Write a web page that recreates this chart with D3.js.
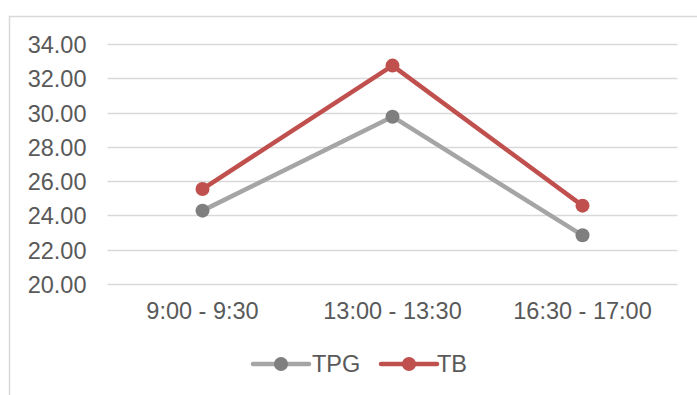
<!DOCTYPE html>
<html>
<head>
<meta charset="utf-8">
<script src="https://cdn.jsdelivr.net/npm/d3@7"></script>
<style>
  html, body { margin: 0; padding: 0; background: #fff; }
  svg { display: block; }
  text { font-family: "Liberation Sans", Arial, sans-serif; fill: #595959; }
</style>
</head>
<body>
<svg id="chart" width="697" height="395"></svg>
<script>
// Time slots on the x axis
const categories = ["9:00 - 9:30", "13:00 - 13:30", "16:30 - 17:00"];
// Series values
const tpgValues = [24.28, 29.76, 22.84];
const tbValues = [25.54, 32.74, 24.57];
// Y axis ticks
const yTicks = [20, 22, 24, 26, 28, 30, 32, 34];

const series = [
  { name: "TPG", values: tpgValues, line: "#A5A5A5", marker: "#7F7F7F" },
  { name: "TB", values: tbValues, line: "#C0504D", marker: "#C0504D" }
];

const W = 697, H = 395;
const plot = { left: 107.5, right: 677.5, top: 44, bottom: 284 };
const svg = d3.select("#chart");

// Outer chart frame (top and left edges visible)
svg.append("path")
  .attr("d", `M9.5,${H} L9.5,16.5 L${W},16.5`)
  .attr("fill", "none")
  .attr("stroke", "#D9D9D9")
  .attr("stroke-width", 1.5);

const x = d3.scaleBand().domain(categories).range([plot.left, plot.right]);
const y = d3.scaleLinear().domain([20, 34]).range([plot.bottom, plot.top]);

// Horizontal gridlines
svg.append("g")
  .selectAll("line")
  .data(yTicks)
  .join("line")
  .attr("x1", plot.left)
  .attr("x2", plot.right)
  .attr("y1", d => Math.round(y(d)) + 0.5)
  .attr("y2", d => Math.round(y(d)) + 0.5)
  .attr("stroke", "#D9D9D9")
  .attr("stroke-width", 1.3);

// Y axis labels
const yAxis = svg.append("g")
  .attr("transform", `translate(${plot.left},0)`)
  .call(d3.axisLeft(y).tickValues(yTicks).tickFormat(d3.format(".2f")).tickSize(0).tickPadding(21));
yAxis.select(".domain").remove();
yAxis.selectAll("text")
  .attr("fill", "#595959")
  .style("font-size", "23.5px")
  .style("font-family", "'Liberation Sans', Arial, sans-serif")
  .attr("dy", "0.36em");

// X axis labels
const xAxis = svg.append("g")
  .attr("transform", `translate(0,${plot.bottom})`)
  .call(d3.axisBottom(x).tickSize(0).tickPadding(18));
xAxis.select(".domain").remove();
xAxis.selectAll("text")
  .attr("fill", "#595959")
  .style("font-size", "23.5px")
  .style("font-family", "'Liberation Sans', Arial, sans-serif");

const cx = c => x(c) + x.bandwidth() / 2;
const line = d3.line()
  .x((d, i) => cx(categories[i]))
  .y(d => y(d));

// Series lines and markers
series.forEach(s => {
  svg.append("path")
    .datum(s.values)
    .attr("d", line)
    .attr("fill", "none")
    .attr("stroke", s.line)
    .attr("stroke-width", 4.5)
    .attr("stroke-linejoin", "round")
    .attr("stroke-linecap", "round");
  svg.append("g")
    .selectAll("circle")
    .data(s.values)
    .join("circle")
    .attr("cx", (d, i) => cx(categories[i]))
    .attr("cy", d => y(d))
    .attr("r", 7)
    .attr("fill", s.marker);
});

// Legend
const legendItems = [
  { s: series[0], x0: 253, x1: 309, tx: 312 },
  { s: series[1], x0: 381, x1: 437, tx: 437 }
];
const ly = 364;
const lg = svg.append("g");
legendItems.forEach(it => {
  lg.append("line")
    .attr("x1", it.x0).attr("x2", it.x1)
    .attr("y1", ly).attr("y2", ly)
    .attr("stroke", it.s.line)
    .attr("stroke-width", 4.5)
    .attr("stroke-linecap", "round");
  lg.append("circle")
    .attr("cx", (it.x0 + it.x1) / 2)
    .attr("cy", ly)
    .attr("r", 7)
    .attr("fill", it.s.marker);
  lg.append("text")
    .attr("x", it.tx)
    .attr("y", ly)
    .attr("dy", "0.36em")
    .style("font-size", "23.5px")
    .text(it.s.name);
});
</script>
</body>
</html>
